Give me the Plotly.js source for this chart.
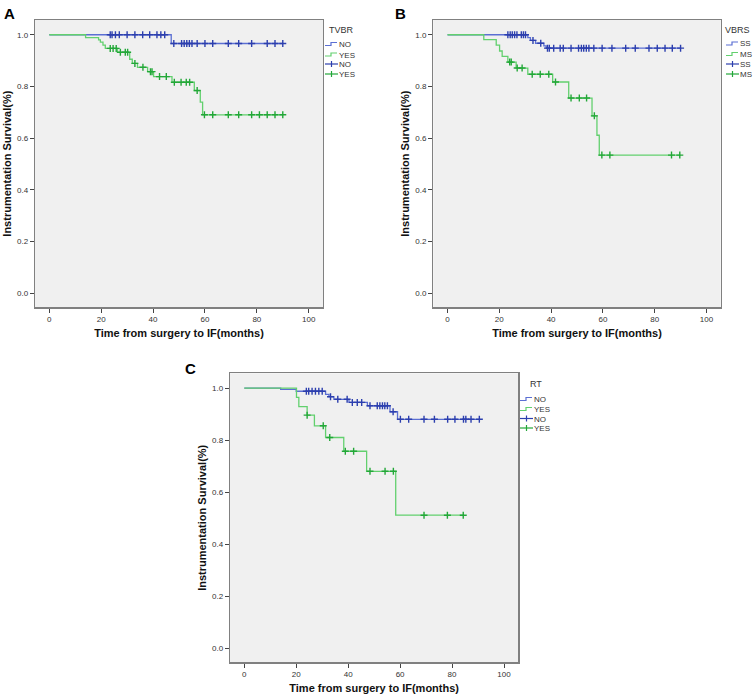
<!DOCTYPE html>
<html>
<head>
<meta charset="utf-8">
<script src="https://cdn.plot.ly/plotly-3.0.1.min.js"></script>
<style>
  body { margin: 0; background: #fff; overflow: hidden; }
  #myPlot { width: 753px; height: 696px; }
</style>
</head>
<body>
<div id="myPlot"></div>
<script>
// Panel A - TVBR
var aNoTimes = [0, 47];
var aNoSurv = [1, 0.966];
var aNoCensored = [23.5, 24.2, 25.5, 27, 30, 33, 36, 38.7, 41.5, 43, 44.5, 48, 51, 52, 53, 54, 55, 57, 60, 63, 69, 73, 78, 84, 87, 90];
var aYesTimes = [0, 14, 19, 19.7, 20.7, 21.6, 26.3, 31, 32, 34, 37.9, 40.2, 47.3, 55.9, 58.2, 59.1];
var aYesSurv = [1, 0.989, 0.980, 0.971, 0.960, 0.947, 0.932, 0.905, 0.889, 0.874, 0.857, 0.838, 0.816, 0.784, 0.739, 0.690];
var aYesCensored = [23.5, 24.6, 25.8, 27.4, 29.3, 30.2, 33, 36.1, 39, 39.6, 42.5, 45.1, 48.2, 50.8, 52.8, 54.1, 57, 59.8, 63, 69, 73, 78, 81, 84, 87, 90];

// Panel B - VBRS
var bSsTimes = [0, 31, 32, 34, 37.2, 38.1];
var bSsSurv = [1, 0.989, 0.978, 0.967, 0.957, 0.948];
var bSsCensored = [23.3, 24.2, 25, 25.9, 26.8, 28.5, 29.3, 30.1, 33, 36, 38.6, 39.3, 41, 43.5, 44.7, 47.7, 50.6, 51.7, 52.6, 53.6, 54.6, 56.5, 59.7, 63.5, 68.8, 72.5, 77.8, 81, 84, 86.8, 90];
var bMsTimes = [0, 14, 18.8, 20.1, 21.1, 23.3, 26.5, 31, 40.6, 46.8, 55.8, 57.7, 58.6];
var bMsSurv = [1, 0.981, 0.960, 0.937, 0.916, 0.894, 0.871, 0.847, 0.817, 0.755, 0.686, 0.611, 0.534];
var bMsCensored = [24, 24.6, 26.9, 28.8, 32.7, 35.8, 39.1, 41.7, 47.7, 50.9, 53.7, 56.7, 59.6, 62.7, 86.5, 89.7];

// Panel C - RT
var cNoTimes = [0, 14, 20, 31.3, 32.6, 34.5, 40.3, 47.4, 56.1, 59];
var cNoSurv = [1, 0.995, 0.988, 0.976, 0.967, 0.957, 0.945, 0.932, 0.909, 0.880];
var cNoCensored = [23.9, 24.8, 26.1, 27.4, 28.7, 30, 33.2, 36, 39.6, 41.6, 43.5, 45.2, 48.4, 51.2, 52.2, 53.2, 54.1, 55.1, 57.3, 60.1, 63.3, 69.2, 73.2, 78.3, 81.1, 84.4, 85.3, 87.3, 90.5];
var cYesTimes = [0, 20.1, 21, 24.2, 27, 31.3, 38.3, 47.1, 58.3];
var cYesSurv = [1, 0.964, 0.929, 0.896, 0.855, 0.810, 0.757, 0.680, 0.511];
var cYesCensored = [24.2, 30.4, 32.9, 38.9, 42.1, 48.4, 54.2, 57.4, 69.2, 78.2, 84.3];

var legendTitles = ["TVBR", "VBRS", "RT"];
var groupNames = [["NO", "YES"], ["SS", "MS"], ["NO", "YES"]];

var xTicks = [0, 20, 40, 60, 80, 100];
var yTicks = [0, 0.2, 0.4, 0.6, 0.8, 1.0];

var blueLine = "#5b6fd3", blueMark = "#2c3fae";
var greenLine = "#62d06e", greenMark = "#23a738";
var font = "Liberation Sans, Arial, sans-serif";
var W = 753, H = 696;

// survival value at time t from the step function
function survAt(times, surv, t) {
    var s = surv[0];
    for (var i = 0; i < times.length; i++) {
        if (times[i] <= t) s = surv[i];
    }
    return s;
}

function groupTraces(times, surv, censored, name, lineColor, markColor, ax) {
    var last = censored[censored.length - 1];
    var lx = times.slice(), ly = surv.slice();
    if (last > lx[lx.length - 1]) {
        lx.push(last);
        ly.push(ly[ly.length - 1]);
    }
    var line = {
        x: lx, y: ly, name: name, mode: "lines", showlegend: false,
        line: { shape: "hv", color: lineColor, width: 1.3 },
        xaxis: ax.x, yaxis: ax.y
    };
    var cens = {
        x: censored,
        y: censored.map(function (t) { return survAt(times, surv, t); }),
        name: name, mode: "markers", showlegend: false,
        marker: { symbol: "cross-thin-open", size: 5, line: { color: markColor, width: 1.4 }, color: markColor },
        xaxis: ax.x, yaxis: ax.y
    };
    return [line, cens];
}

function panelTraces(g1, g2, ax) {
    var t1 = groupTraces(g1[0], g1[1], g1[2], g1[3], blueLine, blueMark, ax);
    var t2 = groupTraces(g2[0], g2[1], g2[2], g2[3], greenLine, greenMark, ax);
    return [t1[0], t2[0], t1[1], t2[1]];
}

var data = []
    .concat(panelTraces([aNoTimes, aNoSurv, aNoCensored, groupNames[0][0]], [aYesTimes, aYesSurv, aYesCensored, groupNames[0][1]], { x: "x", y: "y" }))
    .concat(panelTraces([bSsTimes, bSsSurv, bSsCensored, groupNames[1][0]], [bMsTimes, bMsSurv, bMsCensored, groupNames[1][1]], { x: "x2", y: "y2" }))
    .concat(panelTraces([cNoTimes, cNoSurv, cNoCensored, groupNames[2][0]], [cYesTimes, cYesSurv, cYesCensored, groupNames[2][1]], { x: "x3", y: "y3" }));

function xAxis(domain, anchor) {
    return {
        domain: domain, anchor: anchor, range: [-5.5, 105.5], tickvals: xTicks,
        ticks: "outside", ticklen: 4, tickcolor: "#444", showgrid: false, zeroline: false,
        showline: true, mirror: true, linecolor: "#808080", linewidth: 1.3,
        tickfont: { family: font, size: 8, color: "#333" },
        title: { text: "<b>Time from surgery to IF(months)</b>", font: { family: font, size: 11, color: "#111" }, standoff: 6 }
    };
}
function yAxis(domain, anchor) {
    return {
        domain: domain, anchor: anchor, range: [-0.055, 1.057], tickvals: yTicks, tickformat: ".1f",
        ticks: "outside", ticklen: 4, tickcolor: "#444", showgrid: false, zeroline: false,
        showline: true, mirror: true, linecolor: "#808080", linewidth: 1.3,
        tickfont: { family: font, size: 8, color: "#333" },
        title: { text: "<b>Instrumentation Survival(%)</b>", font: { family: font, size: 11, color: "#111" }, standoff: 3 }
    };
}

// SPSS style legend: title, two step-line keys, two censor keys
var annotations = [], shapes = [];
function px(x) { return x / W; }
function py(y) { return 1 - y / H; }
function addLegend(x0, titleX, yTitle, rows, title, names) {
    annotations.push({ text: title, x: px(titleX), y: py(yTitle), xref: "paper", yref: "paper",
        xanchor: "left", yanchor: "middle", showarrow: false, font: { family: font, size: 9, color: "#333" } });
    var colors = [blueLine, greenLine, blueMark, greenMark];
    for (var i = 0; i < 4; i++) {
        var y = rows[i];
        if (i < 2) {
            shapes.push({ type: "path", xref: "paper", yref: "paper",
                path: "M" + px(x0) + "," + py(y + 1.5) + " H" + px(x0 + 6) + " V" + py(y - 1.5) + " H" + px(x0 + 12),
                line: { color: colors[i], width: 1.2 } });
        } else {
            shapes.push({ type: "line", xref: "paper", yref: "paper", x0: px(x0), x1: px(x0 + 13), y0: py(y), y1: py(y),
                line: { color: colors[i], width: 1.2 } });
            shapes.push({ type: "line", xref: "paper", yref: "paper", x0: px(x0 + 6.5), x1: px(x0 + 6.5), y0: py(y - 3), y1: py(y + 3),
                line: { color: colors[i], width: 1.2 } });
        }
        annotations.push({ text: names[i % 2], x: px(x0 + 12), y: py(y + 0.5), xref: "paper", yref: "paper",
            xanchor: "left", yanchor: "middle", showarrow: false, font: { family: font, size: 8, color: "#333" } });
    }
}
addLegend(325, 327, 30, [44, 54.5, 64, 74], legendTitles[0], groupNames[0]);
addLegend(726, 723, 30, [43.5, 54, 64, 74], legendTitles[1], groupNames[1]);
addLegend(520, 528, 384, [399, 409, 418.5, 428], legendTitles[2], groupNames[2]);

var letters = [["A", 2, 3], ["B", 393, 3], ["C", 183, 358]];
letters.forEach(function (l) {
    annotations.push({ text: "<b>" + l[0] + "</b>", x: px(l[1]), y: py(l[2]), xref: "paper", yref: "paper",
        xanchor: "left", yanchor: "top", showarrow: false, font: { family: font, size: 15, color: "#000" } });
});

var layout = {
    width: W, height: H,
    margin: { l: 0, r: 0, t: 0, b: 0, autoexpand: false },
    paper_bgcolor: "#fff",
    plot_bgcolor: "#f0f0f0",
    showlegend: false,
    xaxis: xAxis([px(35), px(323)], "y"),
    yaxis: yAxis([py(307.3), py(20)], "x"),
    xaxis2: xAxis([px(433.3), px(720.7)], "y2"),
    yaxis2: yAxis([py(307.3), py(20)], "x2"),
    xaxis3: xAxis([px(230), px(518.3)], "y3"),
    yaxis3: yAxis([py(662.3), py(373.3)], "x3"),
    annotations: annotations,
    shapes: shapes
};

Plotly.newPlot("myPlot", data, layout, { displayModeBar: false, staticPlot: true });
</script>
</body>
</html>
